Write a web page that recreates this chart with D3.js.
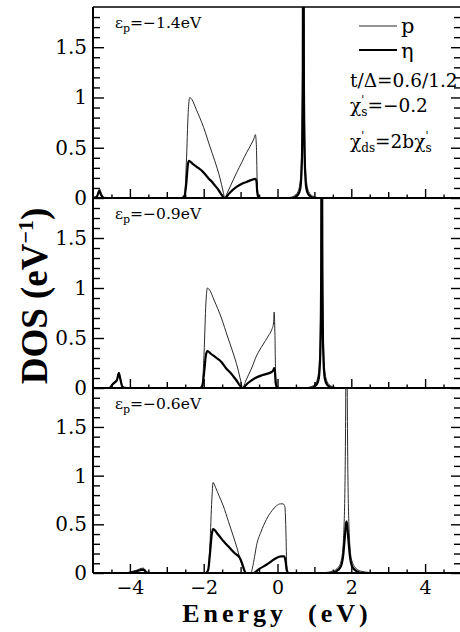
<!DOCTYPE html>
<html>
<head>
<meta charset="utf-8">
<script src="https://cdn.jsdelivr.net/npm/d3@7"></script>
<style>
body { margin: 0; background: #fff; }
svg { display: block; }
text { font-family: 'DejaVu Serif', 'Liberation Serif', serif; fill: #000; }
.axis path { display: none; }
.axis line { stroke: #000; stroke-width: 1.4; }
</style>
</head>
<body>
<div class="chart"></div>
<script>
const WIDTH = 460
const HEIGHT = 632

// energy (eV) / DOS pairs
const P_14 = [[-5, 0], [-4.95, 0.005], [-4.88, 0.03], [-4.82, 0.09], [-4.78, 0.05], [-4.72, 0.01], [-4.6, 0],
	[-2.6, 0], [-2.52, 0.03], [-2.47, 0.35], [-2.42, 0.85], [-2.38, 1.0], [-2.32, 0.98], [-2.2, 0.88], [-2.0, 0.7],
	[-1.83, 0.51], [-1.7, 0.37], [-1.56, 0.2], [-1.47, 0.06], [-1.43, 0], [-1.35, 0.06], [-1.2, 0.18], [-1.11, 0.25],
	[-0.96, 0.36], [-0.84, 0.45], [-0.72, 0.53], [-0.64, 0.59], [-0.6, 0.63], [-0.57, 0.5], [-0.55, 0.15], [-0.52, 0.03],
	[-0.45, 0.005], [0.3, 0.005], [0.45, 0.02], [0.55, 0.06], [0.61, 0.15], [0.65, 0.4], [0.675, 1.1], [0.69, 2.5],
	[0.7, 4], [0.71, 2.5], [0.725, 1.1], [0.75, 0.4], [0.79, 0.15], [0.85, 0.06], [0.95, 0.02], [1.1, 0.005], [1.4, 0], [5, 0]]
const ETA_14 = [[-5, 0], [-4.9, 0.01], [-4.83, 0.07], [-4.78, 0.03], [-4.7, 0], [-2.6, 0], [-2.52, 0.02], [-2.47, 0.15],
	[-2.43, 0.33], [-2.4, 0.37], [-2.3, 0.34], [-2.15, 0.3], [-2.02, 0.26], [-1.88, 0.2], [-1.75, 0.15], [-1.6, 0.08],
	[-1.43, 0], [-1.3, 0.05], [-1.11, 0.11], [-0.95, 0.145], [-0.84, 0.16], [-0.7, 0.18], [-0.6, 0.19], [-0.57, 0.17],
	[-0.55, 0.06], [-0.52, 0.01], [-0.45, 0], [0.4, 0], [0.55, 0.03], [0.62, 0.1], [0.66, 0.35], [0.685, 1.2], [0.7, 4],
	[0.715, 1.2], [0.74, 0.35], [0.78, 0.1], [0.85, 0.03], [1.0, 0], [5, 0]]

const P_09 = [[-5, 0], [-4.62, 0], [-4.55, 0.01], [-4.46, 0.05], [-4.35, 0.09], [-4.3, 0.16], [-4.26, 0.1], [-4.2, 0.02],
	[-4.1, 0], [-2.1, 0], [-2.04, 0.03], [-1.99, 0.35], [-1.94, 0.85], [-1.9, 1.0], [-1.84, 0.98], [-1.72, 0.88],
	[-1.52, 0.7], [-1.35, 0.51], [-1.22, 0.37], [-1.08, 0.2], [-0.99, 0.06], [-0.95, 0], [-0.85, 0.08], [-0.7, 0.2],
	[-0.57, 0.32], [-0.4, 0.43], [-0.25, 0.52], [-0.16, 0.58], [-0.11, 0.64], [-0.09, 0.76], [-0.07, 0.55], [-0.05, 0.12],
	[-0.02, 0.02], [0.05, 0], [0.8, 0.005], [0.95, 0.02], [1.05, 0.06], [1.11, 0.15], [1.15, 0.4], [1.175, 1.1], [1.19, 2.5],
	[1.2, 4], [1.21, 2.5], [1.225, 1.1], [1.25, 0.4], [1.29, 0.15], [1.35, 0.06], [1.45, 0.02], [1.6, 0.005], [1.9, 0], [5, 0]]
const ETA_09 = [[-5, 0], [-4.55, 0], [-4.46, 0.04], [-4.35, 0.08], [-4.3, 0.15], [-4.26, 0.09], [-4.2, 0.01], [-4.1, 0],
	[-2.1, 0], [-2.04, 0.02], [-1.99, 0.15], [-1.94, 0.33], [-1.9, 0.37], [-1.8, 0.34], [-1.65, 0.3], [-1.52, 0.26],
	[-1.4, 0.2], [-1.27, 0.15], [-1.12, 0.08], [-0.95, 0], [-0.8, 0.05], [-0.6, 0.1], [-0.4, 0.13], [-0.16, 0.16],
	[-0.11, 0.18], [-0.09, 0.2], [-0.07, 0.17], [-0.05, 0.05], [-0.02, 0.01], [0.05, 0], [0.9, 0], [1.05, 0.03], [1.12, 0.1],
	[1.16, 0.35], [1.185, 1.2], [1.2, 4], [1.215, 1.2], [1.24, 0.35], [1.28, 0.1], [1.35, 0.03], [1.5, 0], [5, 0]]

const P_06 = [[-5, 0], [-4.1, 0], [-4.05, 0.005], [-3.85, 0.025], [-3.64, 0.05], [-3.58, 0.03], [-3.54, 0.005], [-3.45, 0],
	[-1.95, 0], [-1.88, 0.03], [-1.83, 0.3], [-1.78, 0.75], [-1.745, 0.93], [-1.68, 0.88], [-1.58, 0.79], [-1.47, 0.69],
	[-1.33, 0.53], [-1.2, 0.38], [-1.1, 0.26], [-1.02, 0.15], [-0.96, 0.08], [-0.9, 0.02], [-0.85, 0], [-0.72, 0],
	[-0.68, 0.05], [-0.62, 0.17], [-0.57, 0.28], [-0.45, 0.42], [-0.3, 0.55], [-0.15, 0.64], [-0.03, 0.69], [0.08, 0.71],
	[0.15, 0.71], [0.2, 0.68], [0.23, 0.4], [0.25, 0.08], [0.28, 0.01], [0.35, 0], [1.3, 0.005], [1.5, 0.02], [1.65, 0.06],
	[1.74, 0.15], [1.8, 0.45], [1.84, 1.3], [1.86, 2.8], [1.87, 4], [1.88, 2.8], [1.9, 1.3], [1.94, 0.45], [2.0, 0.15],
	[2.1, 0.06], [2.25, 0.02], [2.5, 0.005], [2.8, 0], [5, 0]]
const ETA_06 = [[-5, 0], [-4.05, 0], [-3.85, 0.015], [-3.64, 0.035], [-3.6, 0.025], [-3.55, 0.005], [-3.45, 0],
	[-1.95, 0], [-1.88, 0.03], [-1.83, 0.2], [-1.78, 0.4], [-1.745, 0.45], [-1.6, 0.39], [-1.45, 0.32], [-1.3, 0.26],
	[-1.15, 0.2], [-1.02, 0.155], [-0.96, 0.1], [-0.9, 0.03], [-0.86, 0], [-0.65, 0], [-0.6, 0.01], [-0.5, 0.04],
	[-0.3, 0.085], [-0.15, 0.125], [-0.03, 0.155], [0.1, 0.17], [0.18, 0.17], [0.22, 0.12], [0.25, 0.03], [0.3, 0],
	[1.45, 0], [1.6, 0.02], [1.72, 0.07], [1.78, 0.18], [1.82, 0.35], [1.855, 0.5], [1.87, 0.53], [1.885, 0.5],
	[1.92, 0.35], [1.96, 0.18], [2.02, 0.07], [2.14, 0.02], [2.3, 0], [5, 0]]

const PANEL_EPS = ['−1.4', '−0.9', '−0.6']
const PANEL_P = [P_14, P_09, P_06]
const PANEL_ETA = [ETA_14, ETA_09, ETA_06]

const Y_MAJOR = [0, 0.5, 1, 1.5]
const Y_TICK_LABELS = ['0', '0.5', '1', '1.5']
const X_LABELED = [-4, -2, 0, 2, 4]
const X_TICK_LABELS = ['−4', '−2', '0', '2', '4']
const X_ODD = [-3, -1, 1, 3]

const LEFT = 93
const RIGHT = 462
const TOPS = [7, 198, 388]
const BOTTOMS = [198, 388, 573]

const svg = d3.select('.chart').append('svg')
	.attr('width', WIDTH)
	.attr('height', HEIGHT)

const scaleX = d3.scaleLinear().domain([-5, 5]).range([LEFT, RIGHT])

const yMinor = d3.range(1, 19).map(d => d / 10).filter(d => Math.round(d * 10) % 5 !== 0)
const xHalf = d3.range(-9, 10, 2).map(d => d / 2)

function translate(x, y) {
	return `translate(${x}, ${y})`
}

const lineP = d3.line().curve(d3.curveMonotoneX)
const defs = svg.append('defs')

PANEL_P.forEach((pData, i) => {
	const top = TOPS[i]
	const bottom = BOTTOMS[i]
	const scaleY = d3.scaleLinear().domain([0, 1.9]).range([bottom, top])
	const g = svg.append('g').attr('class', `panel panel--${i}`)

	defs.append('clipPath').attr('id', `clip-${i}`)
		.append('rect')
		.attr('x', LEFT).attr('y', top)
		.attr('width', RIGHT - LEFT).attr('height', bottom - top)

	lineP.x(d => scaleX(d[0])).y(d => scaleY(d[1]))

	const plot = g.append('g').attr('clip-path', `url(#clip-${i})`)
	plot.append('path')
		.attr('d', lineP(pData))
		.attr('fill', 'none')
		.attr('stroke', '#2a2a2a')
		.attr('stroke-width', 1)
	plot.append('path')
		.attr('d', lineP(PANEL_ETA[i]))
		.attr('fill', 'none')
		.attr('stroke', '#000')
		.attr('stroke-width', 2.2)
		.attr('stroke-linejoin', 'round')

	// left axis, ticks inward
	g.append('g').attr('class', 'axis')
		.attr('transform', translate(LEFT, 0))
		.call(d3.axisLeft(scaleY).tickValues(yMinor).tickSizeInner(-7).tickSizeOuter(0).tickFormat(''))
	const yAxis = d3.axisLeft(scaleY)
		.tickValues(Y_MAJOR)
		.tickSizeInner(-11).tickSizeOuter(0)
		.tickPadding(6)
		.tickFormat((d, j) => Y_TICK_LABELS[j])
	g.append('g').attr('class', 'axis axis--y')
		.attr('transform', translate(LEFT, 0))
		.call(yAxis)
		.selectAll('text')
		.style('font-size', '20px')
		.style('font-family', null)

	// right axis ticks
	g.append('g').attr('class', 'axis')
		.attr('transform', translate(RIGHT, 0))
		.call(d3.axisRight(scaleY).tickValues(yMinor).tickSizeInner(-8).tickSizeOuter(0).tickFormat(''))
	g.append('g').attr('class', 'axis')
		.attr('transform', translate(RIGHT, 0))
		.call(d3.axisRight(scaleY).tickValues(Y_MAJOR).tickSizeInner(-11).tickSizeOuter(0).tickFormat(''))

	// bottom ticks
	g.append('g').attr('class', 'axis')
		.attr('transform', translate(0, bottom))
		.call(d3.axisBottom(scaleX).tickValues(xHalf).tickSizeInner(-3.5).tickSizeOuter(0).tickFormat(''))
	g.append('g').attr('class', 'axis')
		.attr('transform', translate(0, bottom))
		.call(d3.axisBottom(scaleX).tickValues(X_ODD).tickSizeInner(-6).tickSizeOuter(0).tickFormat(''))
	const xAxis = d3.axisBottom(scaleX)
		.tickValues(X_LABELED)
		.tickSizeInner(-9).tickSizeOuter(0)
		.tickPadding(8)
		.tickFormat((d, j) => i === 2 ? X_TICK_LABELS[j] : '')
	g.append('g').attr('class', 'axis axis--x')
		.attr('transform', translate(0, bottom))
		.call(xAxis)
		.selectAll('text')
		.style('font-size', '19px')
		.style('font-family', null)

	// baseline of the panel
	g.append('line')
		.attr('x1', LEFT).attr('x2', RIGHT)
		.attr('y1', bottom).attr('y2', bottom)
		.attr('stroke', '#000').attr('stroke-width', 2)

	const label = g.append('text')
		.attr('x', LEFT + 22)
		.attr('y', top + 21)
		.style('font-size', '15.5px')
	label.append('tspan').text('ε')
	label.append('tspan').attr('dy', 4).style('font-size', '11px').text('p')
	label.append('tspan').attr('dy', -4).text(`=${PANEL_EPS[i]}eV`)
})

// frame: left, top, right
svg.append('line')
	.attr('x1', LEFT).attr('x2', LEFT)
	.attr('y1', TOPS[0]).attr('y2', BOTTOMS[2])
	.attr('stroke', '#000').attr('stroke-width', 2)
svg.append('line')
	.attr('x1', LEFT).attr('x2', RIGHT)
	.attr('y1', TOPS[0]).attr('y2', TOPS[0])
	.attr('stroke', '#000').attr('stroke-width', 1.6)
svg.append('line')
	.attr('x1', RIGHT).attr('x2', RIGHT)
	.attr('y1', TOPS[0]).attr('y2', BOTTOMS[2])
	.attr('stroke', '#000').attr('stroke-width', 2)

// legend
const legend = svg.append('g').attr('class', 'legend')
legend.append('line').attr('x1', 359).attr('x2', 397).attr('y1', 26).attr('y2', 26)
	.attr('stroke', '#2a2a2a').attr('stroke-width', 1)
legend.append('text').attr('x', 401).attr('y', 33).style('font-size', '21px').text('p')
legend.append('line').attr('x1', 359).attr('x2', 397).attr('y1', 50).attr('y2', 50)
	.attr('stroke', '#000').attr('stroke-width', 2.2)
legend.append('text').attr('x', 401).attr('y', 58).style('font-size', '21px').text('η')

const params = svg.append('g').attr('class', 'params').style('font-size', '18.5px')
params.append('text').attr('x', 350).attr('y', 87).text('t/Δ=0.6/1.2')

const chiS = params.append('text').attr('x', 350).attr('y', 112)
chiS.append('tspan').text('χ')
chiS.append('tspan').attr('dy', -9).style('font-size', '11px').text('\'')
chiS.append('tspan').attr('dx', -3).attr('dy', 13).style('font-size', '12px').text('s')
chiS.append('tspan').attr('dy', -4).text('=−0.2')

const chiDs = params.append('text').attr('x', 350).attr('y', 148)
chiDs.append('tspan').text('χ')
chiDs.append('tspan').attr('dy', -9).style('font-size', '11px').text('\'')
chiDs.append('tspan').attr('dx', -3).attr('dy', 13).style('font-size', '12px').text('ds')
chiDs.append('tspan').attr('dy', -4).text('=2bχ')
chiDs.append('tspan').attr('dy', -9).style('font-size', '11px').text('\'')
chiDs.append('tspan').attr('dx', -3).attr('dy', 13).style('font-size', '12px').text('s')

// axis titles
svg.append('text')
	.attr('x', 277)
	.attr('y', 622)
	.attr('text-anchor', 'middle')
	.attr('xml:space', 'preserve')
	.style('font-family', "'Liberation Serif', serif")
	.style('font-weight', 'bold')
	.style('font-size', '26px')
	.style('letter-spacing', '4px')
	.text('Energy  (eV)')

const yTitle = svg.append('text')
	.attr('transform', `${translate(47, 296)} rotate(-90)`)
	.attr('text-anchor', 'middle')
	.style('font-family', "'Liberation Serif', serif")
	.style('font-weight', 'bold')
	.style('font-size', '37px')
yTitle.append('tspan').text('DOS (eV')
yTitle.append('tspan').attr('dy', -14).style('font-size', '22px').text('−1')
yTitle.append('tspan').attr('dy', 14).text(')')
</script>
</body>
</html>
